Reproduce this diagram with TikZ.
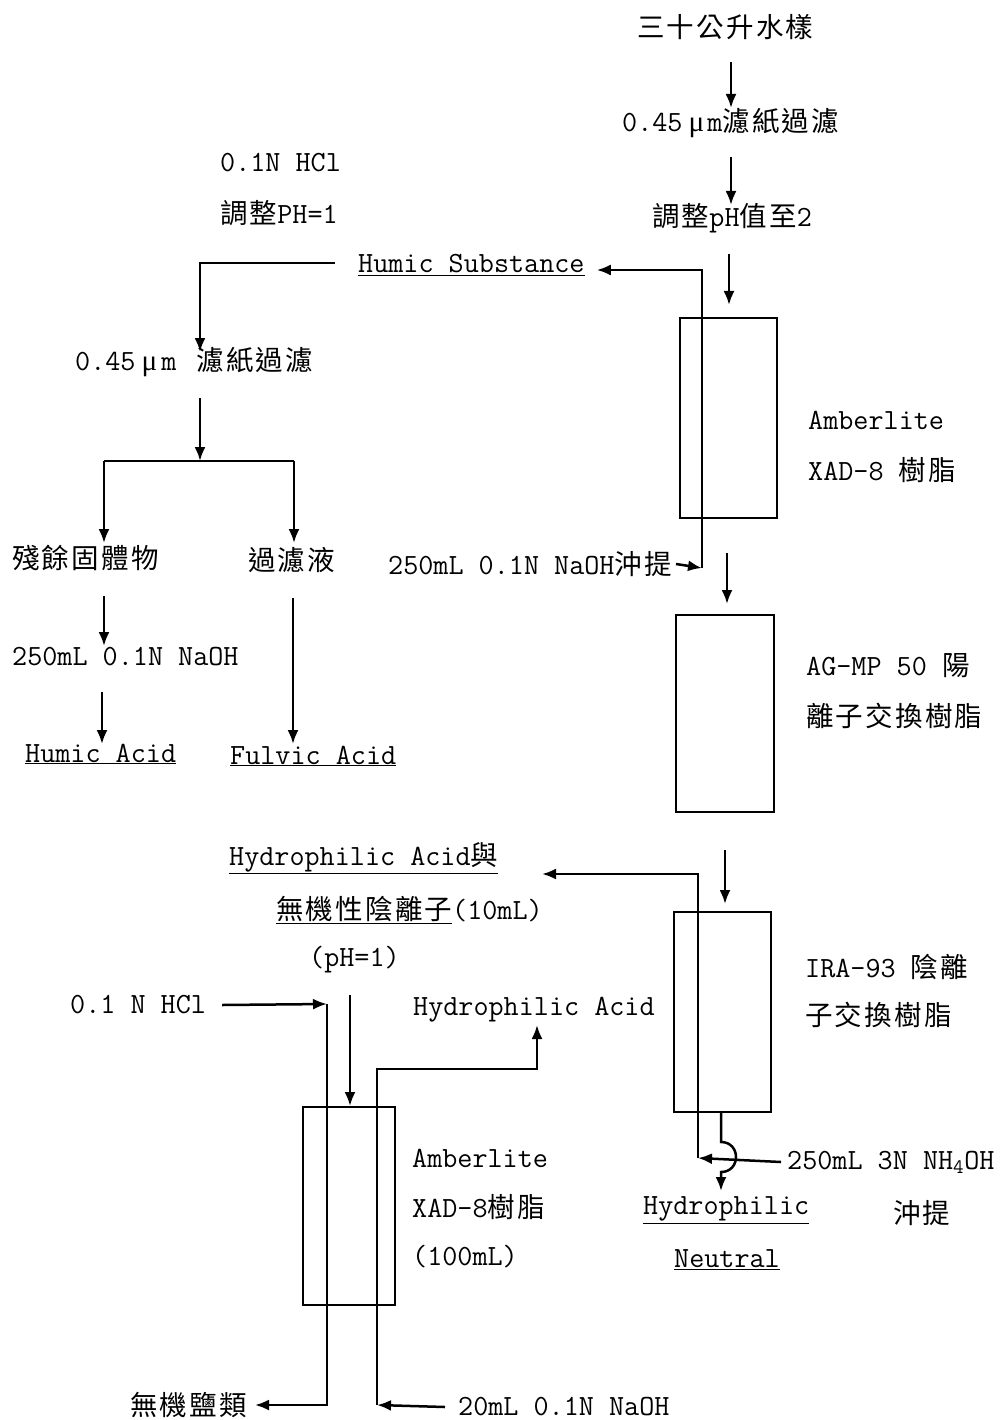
\documentclass[tikz,border=0pt]{standalone}
\usepackage{fontspec}
\newfontfamily\cjkfont[LetterSpace=8]{Noto Sans CJK TC}
\newfontfamily\mufont{Liberation Serif}
\usetikzlibrary{arrows.meta}
\newcommand\zhtxt[1]{{\cjkfont\fontsize{27.5}{30}\selectfont #1}}
\newcommand\mug{{\mufont μ}}
\begin{document}
\begin{tikzpicture}[x=1pt,y=-1pt,
  every node/.style={font=\ttfamily\fontsize{29.3}{32}\selectfont, inner sep=0pt, anchor=west},
  ln/.style={line width=2.5pt},
  arr/.style={line width=2.5pt,-{Latex[length=14pt,width=11pt]}},
  col/.style={draw,line width=2.5pt,anchor=center}]
\useasboundingbox[fill=white] (0,0) rectangle (1004,1420);

% ---------- text nodes ----------
\node (t1) at (637,27) {\zhtxt{三十公升水樣}};
\node (t2) at (622,123) {0.45\hspace{6pt}\mug\hspace{3pt}m\zhtxt{濾紙過濾}};
\node (t3) at (652,218) {\zhtxt{調整}pH\zhtxt{值至}2};
\node (hcl1) at (220,163) {0.1N HCl};
\node (ph1) at (220,213) {\zhtxt{調整}PH=1};
\node (hs) at (358,265) {\underline{Humic Substance}};
\node (flt2) at (75,362) {0.45\hspace{6pt}\mug\hspace{4pt}m\hspace{20pt}\zhtxt{濾紙過濾}};
\node (amb1) at (808,420) {Amberlite};
\node (xad1) at (808,470) {XAD-8 \zhtxt{樹脂}};
\node (res) at (12,558) {\zhtxt{殘餘固體物}};
\node (filt) at (248,560) {\zhtxt{過濾液}};
\node (nao) at (388,564) {250mL 0.1N NaOH\zhtxt{沖提}};
\node (ag1) at (806,666) {AG-MP 50 \zhtxt{陽}};
\node (ag2) at (806,716) {\zhtxt{離子交換樹脂}};
\node (nao2) at (12,657) {250mL 0.1N NaOH};
\node (ha) at (25,754) {\underline{Humic Acid}};
\node (fa) at (230,756) {\underline{Fulvic Acid}};
\node (hpa) at (229,858) {\underline{Hydrophilic Acid\zhtxt{與}}};
\node (inorg) at (276,910) {\underline{\zhtxt{無機性陰離子}}(10mL)};
\node (ph2) at (309,960) {(pH=1)};
\node (ira1) at (805,967) {IRA-93 \zhtxt{陰離}};
\node (ira2) at (805,1015) {\zhtxt{子交換樹脂}};
\node (hcl2) at (70,1005) {0.1 N HCl};
\node (hpa2) at (413,1010) {Hydrophilic Acid};
\node (amb2) at (412,1158) {Amberlite};
\node (xad2) at (412,1207) {XAD-8\zhtxt{樹脂}};
\node (ml) at (412,1257) {(100mL)};
\node (nh) at (787,1162) {250mL 3N NH\textsubscript{4}OH};
\node (rinse) at (893,1213) {\zhtxt{沖提}};
\node (hpn1) at (643,1210) {\underline{Hydrophilic}};
\node (hpn2) at (674,1260) {\underline{Neutral}};
\node (salt) at (130,1405) {\zhtxt{無機鹽類}};
\node (nao3) at (458,1407) {20mL 0.1N NaOH};

% ---------- columns ----------
\node[col, minimum width=97pt, minimum height=200pt] (b1) at (728.5,418) {};
\node[col, minimum width=98pt, minimum height=197pt] (b2) at (725,713.5) {};
\node[col, minimum width=97pt, minimum height=200pt] (b3) at (722.5,1012) {};
\node[col, minimum width=92pt, minimum height=198pt] (b4) at (349,1206) {};

% ---------- coordinates ----------
\coordinate (a1s) at (731,62);  \coordinate (a1e) at (731,108);
\coordinate (a2s) at (731,157); \coordinate (a2e) at (731,205);
\coordinate (a3s) at (729,254); \coordinate (a3e) at (729,305);
\coordinate (a4s) at (727,553); \coordinate (a4e) at (727,604);
\coordinate (a5s) at (725,850); \coordinate (a5e) at (725,904);
\coordinate (e1b) at (702,568); \coordinate (e1t) at (702,270);
\coordinate (hsL) at (335,263); \coordinate (hsC) at (200,263); \coordinate (hsE) at (200,352);
\coordinate (f2s) at (200,398); \coordinate (f2e) at (200,461);
\coordinate (brL) at (104,461); \coordinate (brR) at (294,461);
\coordinate (brLe) at (104,543); \coordinate (brRe) at (294,543);
\coordinate (r1s) at (104,596); \coordinate (r1e) at (104,646);
\coordinate (r2s) at (102,692); \coordinate (r2e) at (102,744);
\coordinate (fls) at (293,598); \coordinate (fle) at (293,744);
\coordinate (e3b) at (698,1158); \coordinate (e3t) at (698,874); \coordinate (e3e) at (542,874);
\coordinate (h0) at (721,1112); \coordinate (h1) at (721,1142); \coordinate (h2) at (721,1172); \coordinate (h3) at (721,1191);
\coordinate (hc) at (327,1004); \coordinate (hcb) at (327,1405); \coordinate (hce) at (255,1405);
\coordinate (ins) at (350,995); \coordinate (ine) at (350,1106);
\coordinate (nb) at (377,1405); \coordinate (nt) at (377,1069); \coordinate (nr) at (537,1069); \coordinate (ne) at (537,1025);

% ---------- connectors ----------
\draw[arr] (a1s) -- (a1e);
\draw[arr] (a2s) -- (a2e);
\draw[arr] (a3s) -- (a3e);
\draw[arr] (a4s) -- (a4e);
\draw[arr] (a5s) -- (a5e);
\draw[arr] ([xshift=4pt]nao.east) -- (e1b);
\draw[arr] (e1b) -- (e1t) -- ([xshift=12pt]hs.east |- e1t);
\draw[arr] (hsL) -- (hsC) -- (hsE);
\draw[arr] (f2s) -- (f2e);
\draw[ln] (brL) -- (brR);
\draw[arr] (brL) -- (brLe);
\draw[arr] (brR) -- (brRe);
\draw[arr] (r1s) -- (r1e);
\draw[arr] (r2s) -- (r2e);
\draw[arr] (fls) -- (fle);
\draw[arr] ([xshift=-6pt]nh.west) -- (e3b);
\draw[arr] (e3b) -- (e3t) -- (e3e);
\draw[arr] (h0) -- (h1) .. controls (741,1142) and (741,1172) .. (h2) -- (h3);
\draw[arr] ([xshift=16pt]hcl2.east) -- (hc);
\draw[arr] (hc) -- (hcb) -- (hce);
\draw[arr] (ins) -- (ine);
\draw[arr] ([xshift=-13pt]nao3.west) -- (nb);
\draw[arr] (nb) -- (nt) -- (nr) -- (ne);
\end{tikzpicture}
\end{document}
